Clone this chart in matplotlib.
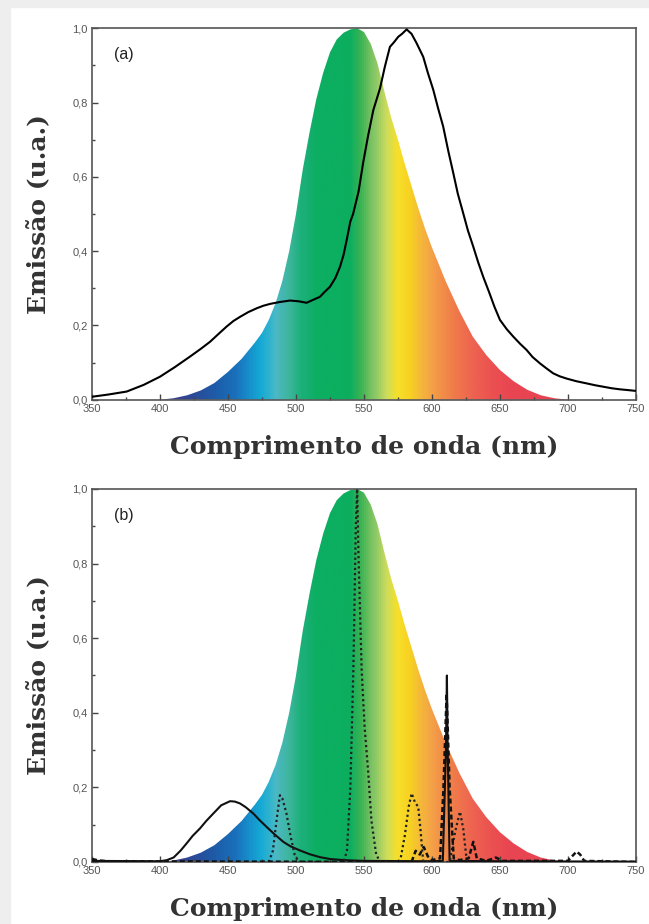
import numpy as np
import matplotlib
matplotlib.use("Agg")
from matplotlib import pyplot as plt
from matplotlib.colors import LinearSegmentedColormap
from matplotlib.patches import Polygon, Rectangle
from matplotlib.ticker import MultipleLocator, FuncFormatter

# eye sensitivity curve (coloured area)
vl_wl = [400, 410, 420, 430, 440, 450, 460, 470, 475, 480, 485, 490, 495, 500,
         505, 510, 515, 520, 525, 530, 535, 540, 545, 550, 555, 560, 565, 570,
         575, 580, 585, 590, 595, 600, 610, 620, 630, 640, 650, 660, 670, 680,
         690, 700]
vl_val = [0.0, 0.004, 0.012, 0.025, 0.045, 0.075, 0.11, 0.155, 0.18, 0.215, 0.26,
          0.32, 0.40, 0.50, 0.62, 0.72, 0.81, 0.88, 0.935, 0.97, 0.988, 0.997, 1.0,
          0.99, 0.958, 0.905, 0.83, 0.76, 0.70, 0.635, 0.575, 0.515, 0.46, 0.41,
          0.32, 0.24, 0.17, 0.12, 0.08, 0.05, 0.027, 0.012, 0.004, 0.0]

# panel (a) emission
a_wl = [350, 362, 375.5, 388, 400, 411, 422, 430, 436.8, 443, 449, 454, 458.8,
        465, 471, 476, 481, 488, 495.6, 502, 507.8, 512, 517.6, 521, 525, 529,
        532.4, 535, 537.3, 540, 542, 546, 549.5, 553, 556.9, 561.8, 565.4, 569.1,
        572, 575.2, 578, 581.4, 585, 588.7, 593.6, 597, 601, 604.5, 608.3, 612,
        615.7, 619, 623, 626.5, 630.4, 634, 637.7, 642, 646, 650, 655, 659.8, 665,
        669.6, 674, 679.4, 684, 689.2, 694, 699, 706, 713.7, 720, 726, 732, 738.2,
        744, 749.3]
a_em = [0.008, 0.014, 0.022, 0.04, 0.062, 0.088, 0.116, 0.137, 0.156, 0.177,
        0.197, 0.212, 0.223, 0.236, 0.246, 0.253, 0.258, 0.263, 0.267, 0.265,
        0.261, 0.268, 0.277, 0.29, 0.304, 0.328, 0.358, 0.39, 0.43, 0.48, 0.50,
        0.56, 0.64, 0.71, 0.78, 0.838, 0.897, 0.95, 0.962, 0.977, 0.985, 0.997,
        0.985, 0.96, 0.923, 0.88, 0.834, 0.785, 0.735, 0.67, 0.61, 0.555, 0.502,
        0.455, 0.412, 0.37, 0.331, 0.29, 0.25, 0.215, 0.19, 0.17, 0.15, 0.134,
        0.115, 0.098, 0.085, 0.071, 0.063, 0.057, 0.05, 0.044, 0.039, 0.035,
        0.031, 0.028, 0.026, 0.024]

# panel (b) emissions
b_solid_wl = [350, 400, 405, 410, 415, 419.6, 424, 429.4, 434, 439.2, 445, 451.5,
              455, 458.8, 463, 468.6, 473, 478.4, 484, 490.7, 496, 502.9, 510,
              517.6, 525, 535, 550, 600, 608, 610.3, 611, 611.6, 613, 650, 750]
b_solid = [0.003, 0.002, 0.005, 0.012, 0.03, 0.05, 0.07, 0.09, 0.11, 0.13, 0.152,
           0.163, 0.162, 0.157, 0.147, 0.13, 0.113, 0.094, 0.075, 0.054, 0.042,
           0.031, 0.021, 0.013, 0.008, 0.005, 0.003, 0.002, 0.003, 0.3, 0.5, 0.3,
           0.003, 0.002, 0.001]

b_dot_wl = [480, 483, 486, 488.2, 490, 493, 496, 499, 502, 535, 537.5, 540, 542.2,
            544, 545, 546, 548.3, 550.5, 553, 555.5, 559, 562, 576.5, 580, 583,
            585.1, 587.5, 589.9, 591.5, 593.6, 613, 617, 620.6, 623, 625.7]
b_dot = [0.0, 0.03, 0.12, 0.179, 0.17, 0.13, 0.07, 0.02, 0.0, 0.0, 0.03, 0.2,
         0.515, 0.9, 1.0, 0.82, 0.515, 0.36, 0.247, 0.11, 0.02, 0.0, 0.0, 0.07,
         0.15, 0.184, 0.16, 0.148, 0.09, 0.0, 0.0, 0.08, 0.135, 0.09, 0.0]

b_dash_wl = [350, 355, 362, 585, 588, 591, 594, 597, 600, 606, 608.5, 610.8, 613,
             616, 620, 627, 630.4, 633, 640, 647, 652, 700, 703, 706.4, 709, 712, 750]
b_dash = [0.008, 0.004, 0.002, 0.0, 0.03, 0.02, 0.04, 0.015, 0.005, 0.01, 0.2,
          0.452, 0.2, 0.01, 0.005, 0.01, 0.054, 0.01, 0.003, 0.012, 0.003, 0.003,
          0.015, 0.028, 0.02, 0.003, 0.0]

# spectrum colours along wavelength
spec_stops = [(350, '#3d3a8a'), (410, '#3b3e8e'), (425, '#2a4b98'), (440, '#1e5ca8'),
              (455, '#1a70bb'), (465, '#168fcb'), (475, '#17acd6'), (485, '#4cb9c3'),
              (495, '#3cb59c'), (503, '#1eb07c'), (515, '#0cae62'), (540, '#0cae5e'),
              (548, '#3db454'), (558, '#8ac766'), (567, '#cfdc5a'), (575, '#f6e02a'),
              (583, '#f8d322'), (592, '#f5b83a'), (603, '#f39a48'), (617, '#f07a4a'),
              (630, '#ee6450'), (645, '#eb5050'), (660, '#e84452'), (750, '#e84452')]
cmap = LinearSegmentedColormap.from_list(
    "spec", [((w - 350) / 400.0, c) for w, c in spec_stops])

fig = plt.figure(figsize=(6.49, 9.24), dpi=100)
fig.patches.append(Rectangle((0, 0.992), 1, 0.008, transform=fig.transFigure,
                             color='#eeeeee', zorder=0))
fig.patches.append(Rectangle((0, 0), 0.015, 1, transform=fig.transFigure,
                             color='#eeeeee', zorder=0))

lab_font = dict(family='DejaVu Serif', fontweight='bold', fontsize=18, color='#333333')
comma = FuncFormatter(lambda v, p: f"{v:.1f}".replace('.', ','))


def setup(ax, tag):
    grad = np.linspace(350, 750, 800).reshape(1, -1)
    im = ax.imshow(grad, extent=[350, 750, 0, 1], aspect='auto', cmap=cmap,
                   vmin=350, vmax=750, origin='lower', zorder=1)
    poly = Polygon(np.column_stack([vl_wl, vl_val]), closed=True,
                   facecolor='none', edgecolor='none', transform=ax.transData)
    ax.add_patch(poly)
    im.set_clip_path(poly)

    ax.set_xlim(350, 750)
    ax.set_ylim(0, 1)
    ax.xaxis.set_major_locator(MultipleLocator(50))
    ax.xaxis.set_minor_locator(MultipleLocator(25))
    ax.yaxis.set_major_locator(MultipleLocator(0.2))
    ax.yaxis.set_minor_locator(MultipleLocator(0.1))
    ax.yaxis.set_major_formatter(comma)
    ax.tick_params(which='both', direction='in', color='#444444', top=False, right=False)
    ax.tick_params(which='major', length=4, width=1, labelsize=8, labelcolor='#555555', pad=3)
    ax.tick_params(which='minor', length=2.5, width=1)
    for lab in ax.get_xticklabels() + ax.get_yticklabels():
        lab.set_family('Liberation Sans')
    for s in ax.spines.values():
        s.set_color('#555555')
        s.set_linewidth(1.2)
    ax.set_xlabel("Comprimento de onda (nm)", labelpad=15, **lab_font)
    ax.set_ylabel("Emissão (u.a.)", labelpad=16, **lab_font)
    ax.text(366, 0.93, tag, fontsize=11.5, family='Liberation Sans', color='#222222',
            va='center', ha='left', zorder=5)


ax1 = fig.add_axes([0.1418, 0.5674, 0.838, 0.402])
setup(ax1, "(a)")
ax1.plot(a_wl, a_em, color='black', lw=1.5, zorder=3)

ax2 = fig.add_axes([0.1418, 0.0671, 0.838, 0.4037])
setup(ax2, "(b)")
ax2.plot(b_solid_wl, b_solid, color='#111111', lw=1.5, zorder=3)
ax2.plot(b_dot_wl, b_dot, color='#222222', lw=1.6, linestyle=(0, (1, 1.3)), zorder=3)
ax2.plot(b_dash_wl, b_dash, color='#111111', lw=1.8, linestyle=(0, (2, 1.2)), zorder=3)

fig.savefig("out.png", dpi=100)
